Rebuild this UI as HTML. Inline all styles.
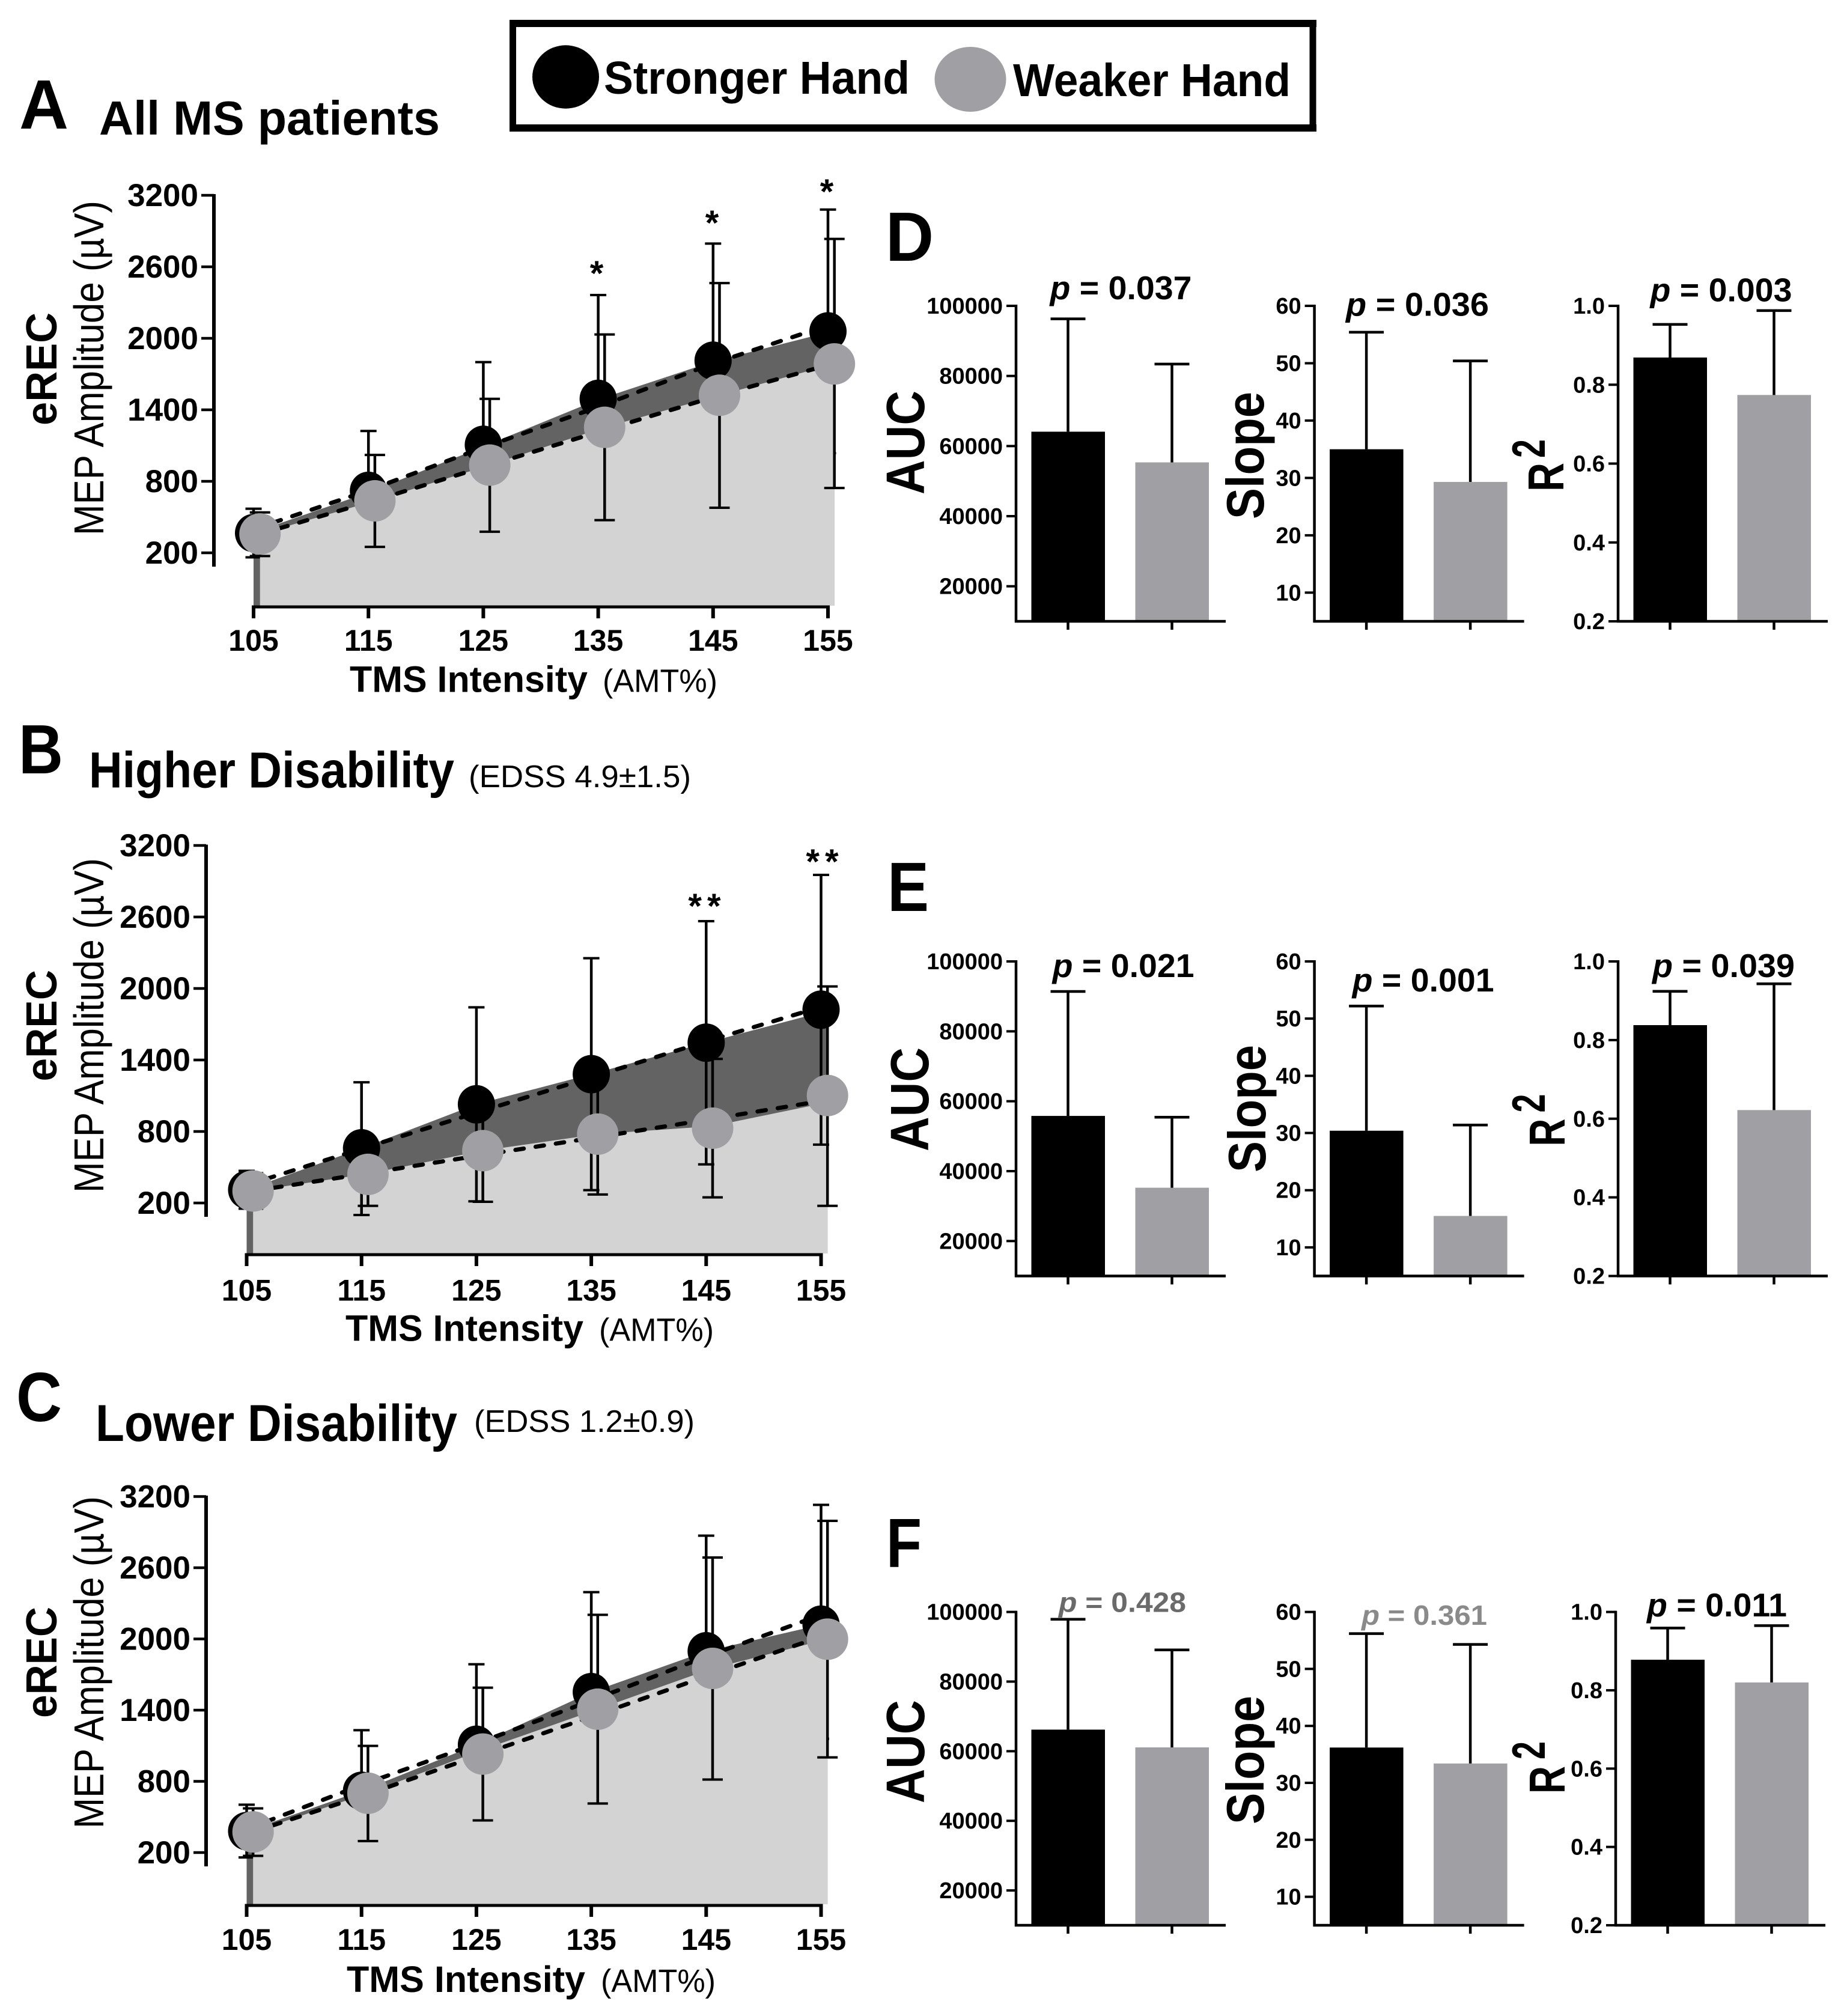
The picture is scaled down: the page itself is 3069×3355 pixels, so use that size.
<!DOCTYPE html>
<html lang="en">
<head>
<meta charset="utf-8">
<title>eREC MEP amplitude by hand</title>
<style>
html,body{margin:0;padding:0;background:#fff;}
svg{display:block;}
text{font-family:"Liberation Sans",sans-serif;fill:#000;}
.b{font-weight:bold;}
</style>
</head>
<body>
<svg id="fig" xmlns="http://www.w3.org/2000/svg" width="3069" height="3355" viewBox="0 0 3069 3355">
<rect width="3069" height="3355" fill="#fff"/>

<g>
<rect x="853.5" y="39" width="1331.5" height="174" fill="#fff" stroke="#000" stroke-width="11"/>
<rect x="848" y="33" width="1343" height="12" fill="#000"/>
<rect x="848" y="207" width="1343" height="12" fill="#000"/>
<ellipse cx="941.5" cy="128" rx="55.5" ry="52.7" fill="#000"/>
<text class="b" x="1005" y="156" font-size="77" textLength="509" lengthAdjust="spacingAndGlyphs">Stronger Hand</text>
<ellipse cx="1615" cy="132" rx="59.5" ry="54" fill="#a09fa3"/>
<text class="b" x="1686" y="160" font-size="77" textLength="462" lengthAdjust="spacingAndGlyphs">Weaker Hand</text>
</g>

<g id="static-text">
<text class="b" x="32" y="214" font-size="116" textLength="82" lengthAdjust="spacingAndGlyphs">A</text>
<text class="b" x="165" y="224" font-size="80" textLength="567" lengthAdjust="spacingAndGlyphs">All MS patients</text>
<text class="b" transform="translate(94 708) rotate(-90)" font-size="72" textLength="188" lengthAdjust="spacingAndGlyphs">eREC</text>
<text transform="translate(172 891) rotate(-90)" font-size="70" textLength="557" lengthAdjust="spacingAndGlyphs">MEP Amplitude (µV)</text>
<text class="b" x="582" y="1151.5" font-size="61" textLength="396" lengthAdjust="spacingAndGlyphs">TMS Intensity</text>
<text x="1003" y="1151.5" font-size="54" textLength="191" lengthAdjust="spacingAndGlyphs">(AMT%)</text>
<text class="b" x="993" y="475" font-size="58" text-anchor="middle">*</text>
<text class="b" x="1185" y="391" font-size="58" text-anchor="middle">*</text>
<text class="b" x="1376" y="339" font-size="58" text-anchor="middle">*</text>

<text class="b" x="31" y="1287" font-size="116" textLength="74" lengthAdjust="spacingAndGlyphs">B</text>
<text class="b" x="148" y="1310.5" font-size="84" textLength="608" lengthAdjust="spacingAndGlyphs">Higher Disability</text>
<text x="780" y="1310" font-size="52" textLength="370" lengthAdjust="spacingAndGlyphs">(EDSS 4.9±1.5)</text>
<text class="b" transform="translate(94 1799.5) rotate(-90)" font-size="72" textLength="185.5" lengthAdjust="spacingAndGlyphs">eREC</text>
<text transform="translate(172 1985) rotate(-90)" font-size="70" textLength="557" lengthAdjust="spacingAndGlyphs">MEP Amplitude (µV)</text>
<text class="b" x="575" y="2231.5" font-size="61" textLength="396" lengthAdjust="spacingAndGlyphs">TMS Intensity</text>
<text x="997" y="2231.5" font-size="54" textLength="191" lengthAdjust="spacingAndGlyphs">(AMT%)</text>
<text class="b" x="1177" y="1528" font-size="58" text-anchor="middle" letter-spacing="9">**</text>
<text class="b" x="1373" y="1454" font-size="58" text-anchor="middle" letter-spacing="9">**</text>

<text class="b" x="27" y="2365" font-size="116" textLength="76" lengthAdjust="spacingAndGlyphs">C</text>
<text class="b" x="159" y="2398" font-size="86" textLength="602" lengthAdjust="spacingAndGlyphs">Lower Disability</text>
<text x="789" y="2383" font-size="52" textLength="367" lengthAdjust="spacingAndGlyphs">(EDSS 1.2±0.9)</text>
<text class="b" transform="translate(94 2859) rotate(-90)" font-size="72" textLength="185" lengthAdjust="spacingAndGlyphs">eREC</text>
<text transform="translate(172 3043) rotate(-90)" font-size="70" textLength="553" lengthAdjust="spacingAndGlyphs">MEP Amplitude (µV)</text>
<text class="b" x="577" y="3315" font-size="61" textLength="397" lengthAdjust="spacingAndGlyphs">TMS Intensity</text>
<text x="1000" y="3315" font-size="54" textLength="191" lengthAdjust="spacingAndGlyphs">(AMT%)</text>

<text class="b" x="1474" y="434" font-size="116" textLength="80" lengthAdjust="spacingAndGlyphs">D</text>
<text class="b" x="1477" y="1516" font-size="116" textLength="69" lengthAdjust="spacingAndGlyphs">E</text>
<text class="b" x="1475" y="2608" font-size="116" textLength="59" lengthAdjust="spacingAndGlyphs">F</text>

<text class="b" transform="translate(1538 823) rotate(-90)" font-size="90" textLength="173" lengthAdjust="spacingAndGlyphs">AUC</text>
<text class="b" transform="translate(2103 864) rotate(-90)" font-size="88" textLength="212" lengthAdjust="spacingAndGlyphs">Slope</text>
<text class="b" transform="translate(2602 818) rotate(-90)" font-size="84" textLength="48" lengthAdjust="spacingAndGlyphs">R</text>
<text class="b" transform="translate(2571 762) rotate(-90)" font-size="78" textLength="31" lengthAdjust="spacingAndGlyphs">2</text>

<text class="b" transform="translate(1545 1916) rotate(-90)" font-size="90" textLength="173" lengthAdjust="spacingAndGlyphs">AUC</text>
<text class="b" transform="translate(2106 1951) rotate(-90)" font-size="88" textLength="212" lengthAdjust="spacingAndGlyphs">Slope</text>
<text class="b" transform="translate(2604 1907.6) rotate(-90)" font-size="84" textLength="46" lengthAdjust="spacingAndGlyphs">R</text>
<text class="b" transform="translate(2571 1851.5) rotate(-90)" font-size="78" textLength="31" lengthAdjust="spacingAndGlyphs">2</text>

<text class="b" transform="translate(1538 3001) rotate(-90)" font-size="90" textLength="172" lengthAdjust="spacingAndGlyphs">AUC</text>
<text class="b" transform="translate(2103 3036) rotate(-90)" font-size="88" textLength="214" lengthAdjust="spacingAndGlyphs">Slope</text>
<text class="b" transform="translate(2604 2985) rotate(-90)" font-size="84" textLength="46" lengthAdjust="spacingAndGlyphs">R</text>
<text class="b" transform="translate(2571 2928) rotate(-90)" font-size="78" textLength="30" lengthAdjust="spacingAndGlyphs">2</text>

<text class="b" x="1747.5" y="498" font-size="55" textLength="236" lengthAdjust="spacingAndGlyphs"><tspan font-style="italic">p</tspan> = 0.037</text>
<text class="b" x="2240" y="525.5" font-size="55" textLength="238" lengthAdjust="spacingAndGlyphs"><tspan font-style="italic">p</tspan> = 0.036</text>
<text class="b" x="2746.5" y="501.5" font-size="55" textLength="236" lengthAdjust="spacingAndGlyphs"><tspan font-style="italic">p</tspan> = 0.003</text>
<text class="b" x="1751.6" y="1626" font-size="55" textLength="236" lengthAdjust="spacingAndGlyphs"><tspan font-style="italic">p</tspan> = 0.021</text>
<text class="b" x="2250.6" y="1650" font-size="55" textLength="236" lengthAdjust="spacingAndGlyphs"><tspan font-style="italic">p</tspan> = 0.001</text>
<text class="b" x="2750" y="1626" font-size="55" textLength="237" lengthAdjust="spacingAndGlyphs"><tspan font-style="italic">p</tspan> = 0.039</text>
<text class="b" x="1762" y="2682.6" font-size="46" textLength="212" lengthAdjust="spacingAndGlyphs" style="fill:#6a6a6a"><tspan font-style="italic" style="fill:#6a6a6a">p</tspan> = 0.428</text>
<text class="b" x="2266" y="2704" font-size="46" textLength="209" lengthAdjust="spacingAndGlyphs" style="fill:#8a8a8a"><tspan font-style="italic" style="fill:#8a8a8a">p</tspan> = 0.361</text>
<text class="b" x="2741" y="2690" font-size="55" textLength="233" lengthAdjust="spacingAndGlyphs"><tspan font-style="italic">p</tspan> = 0.011</text>
</g>
<g id="charts"></g>
</svg>

<script>
// ---- line chart data ----
const intensities = [105, 115, 125, 135, 145, 155];
const intensityLabels = ['105', '115', '125', '135', '145', '155'];
const amplitudeTicks = [200, 800, 1400, 2000, 2600, 3200];
const amplitudeTickLabels = ['200', '800', '1400', '2000', '2600', '3200'];

const panelAStronger = [366, 720, 1106, 1492, 1812, 2058];
const panelAStrongerHigh = [570, 1222, 1800, 2363, 2795, 3080];
const panelAStrongerLow = [162, 218, 412, 621, 829, 1036];
const panelAStrongerDash = [397, 724, 1084, 1424, 1788, 2109];
const panelAStrongerEdge = [371, 706, 1092, 1486, 1805, 2050];
const panelAWeaker = [358, 636, 936, 1253, 1522, 1785];
const panelAWeakerHigh = [539, 1021, 1492, 2032, 2463, 2834];
const panelAWeakerLow = [173, 250, 377, 474, 578, 744];
const panelAWeakerDash = [358, 640, 936, 1230, 1522, 1790];
const panelAWeakerEdge = [358, 636, 936, 1253, 1522, 1785];

const panelBStronger = [311, 659, 1028, 1281, 1545, 1822];
const panelBStrongerHigh = [470, 1213, 1842, 2254, 2565, 2953];
const panelBStrongerLow = [152, 99, 214, 308, 524, 690];
const panelBStrongerDash = [350, 655, 958, 1255, 1556, 1845];
const panelBStrongerEdge = [311, 659, 1028, 1281, 1545, 1800];
const panelBWeaker = [301, 440, 639, 778, 828, 1102];
const panelBWeakerHigh = [450, 703, 1068, 1284, 1409, 2017];
const panelBWeakerLow = [153, 176, 210, 271, 247, 176];
const panelBWeakerDash = [301, 449, 603, 753, 906, 1064];
const panelBWeakerEdge = [301, 445, 639, 778, 845, 1044];

const panelCStronger = [381, 720, 1108, 1552, 1896, 2120];
const panelCStrongerHigh = [603, 1231, 1787, 2394, 2870, 3130];
const panelCStrongerLow = [159, 197, 551, 728, 946, 1158];
const panelCStrongerDash = [397, 769, 1117, 1481, 1851, 2203];
const panelCStrongerEdge = [381, 720, 1108, 1552, 1896, 2120];
const panelCWeaker = [374, 700, 1030, 1408, 1752, 1998];
const panelCWeakerHigh = [572, 1099, 1589, 2203, 2686, 2995];
const panelCWeakerLow = [172, 297, 471, 613, 815, 1002];
const panelCWeakerDash = [374, 693, 1030, 1363, 1704, 2038];
const panelCWeakerEdge = [374, 700, 1067, 1408, 1752, 1998];

// ---- bar chart data (stronger, weaker) ----
const aucTicks = [20000, 40000, 60000, 80000, 100000];
const aucTickLabels = ['20000', '40000', '60000', '80000', '100000'];
const slopeTicks = [10, 20, 30, 40, 50, 60];
const slopeTickLabels = ['10', '20', '30', '40', '50', '60'];
const rTicks = [0.2, 0.4, 0.6, 0.8, 1.0];
const rTickLabels = ['0.2', '0.4', '0.6', '0.8', '1.0'];

const panelDAuc = [64100, 55350];
const panelDAucErr = [96300, 83400];
const panelDSlope = [35.0, 29.3];
const panelDSlopeErr = [55.4, 50.4];
const panelDR2 = [0.869, 0.774];
const panelDR2Err = [0.953, 0.988];

const panelEAuc = [55800, 35260];
const panelEAucErr = [91400, 55440];
const panelESlope = [30.4, 15.5];
const panelESlopeErr = [52.2, 31.4];
const panelER2 = [0.838, 0.622];
const panelER2Err = [0.924, 0.943];

const panelFAuc = [66200, 61100];
const panelFAucErr = [97900, 89100];
const panelFSlope = [36.2, 33.4];
const panelFSlopeErr = [56.2, 54.3];
const panelFR2 = [0.878, 0.82];
const panelFR2Err = [0.959, 0.965];

const NS = 'http://www.w3.org/2000/svg';
const root = document.getElementById('charts');
const BLACK = '#000';
const GRAY = '#a09fa3';
const LIGHT = '#d3d3d3';
const DARK = '#636363';

function addLine(parent, x1, y1, x2, y2, w, name) {
  const el = document.createElementNS(NS, 'line');
  el.setAttribute('x1', x1);
  el.setAttribute('y1', y1);
  el.setAttribute('x2', x2);
  el.setAttribute('y2', y2);
  el.setAttribute('stroke', '#000');
  el.setAttribute('stroke-width', w);
  
  
  parent.appendChild(el);
  return el;
}
function addText(parent, x, y, str, size, anchor, name) {
  const el = document.createElementNS(NS, 'text');
  el.setAttribute('x', x);
  el.setAttribute('y', y);
  el.setAttribute('font-size', size);
  el.setAttribute('font-weight', 'bold');
  el.setAttribute('text-anchor', anchor);
  
  
  el.textContent = str;
  parent.appendChild(el);
  return el;
}
function addGroup(name) {
  const g = document.createElementNS(NS, 'g');
  
  
  root.appendChild(g);
  return g;
}
function addPolygon(parent, pts, fill, name) {
  const el = document.createElementNS(NS, 'polygon');
  el.setAttribute('points', pts.map(p => p[0].toFixed(1) + ',' + p[1].toFixed(1)).join(' '));
  el.setAttribute('fill', fill);
  
  
  parent.appendChild(el);
  return el;
}
function addDashed(parent, pts, name) {
  const el = document.createElementNS(NS, 'polyline');
  el.setAttribute('points', pts.map(p => p[0].toFixed(1) + ',' + p[1].toFixed(1)).join(' '));
  el.setAttribute('fill', 'none');
  el.setAttribute('stroke', '#000');
  el.setAttribute('stroke-width', '7');
  el.setAttribute('stroke-linecap', 'round');
  el.setAttribute('stroke-dasharray', '14 20');
  
  
  parent.appendChild(el);
  return el;
}
function addMarker(parent, cx, cy, rx, ry, fill, name) {
  const el = document.createElementNS(NS, 'ellipse');
  el.setAttribute('cx', cx);
  el.setAttribute('cy', cy);
  el.setAttribute('rx', rx);
  el.setAttribute('ry', ry);
  el.setAttribute('fill', fill);
  
  
  parent.appendChild(el);
  return el;
}
function addBar(parent, x, y, w, h, fill, name) {
  const el = document.createElementNS(NS, 'rect');
  el.setAttribute('x', x);
  el.setAttribute('y', y);
  el.setAttribute('width', w);
  el.setAttribute('height', h);
  el.setAttribute('fill', fill);
  
  
  parent.appendChild(el);
  return el;
}

function errorBars(g, xs, high, low, yOf, cap, series) {
  xs.forEach((x, i) => {
    addLine(g, x, yOf(high[i]), x, yOf(low[i]), 4.5, series + '-error-bar-' + intensityLabels[i]);
    addLine(g, x - cap / 2, yOf(high[i]), x + cap / 2, yOf(high[i]), 4, series + '-error-cap-high-' + intensityLabels[i]);
    addLine(g, x - cap / 2, yOf(low[i]), x + cap / 2, yOf(low[i]), 4, series + '-error-cap-low-' + intensityLabels[i]);
  });
}

function drawLinePanel(p) {
  const g = addGroup('line-chart-' + p.id);
  const xOf = v => p.x105 + (v - 105) * 19.12;
  const yOf = v => p.y200 - (v - 200) * p.pxPer600 / 600;
  const xsB = intensities.map(xOf);
  const xsG = intensities.map(v => xOf(v) + 10.7);
  const ptsB = xsB.map((x, i) => [x, yOf(p.stronger[i])]);
  const ptsG = xsG.map((x, i) => [x, yOf(p.weaker[i])]);
  const edgeB = xsB.map((x, i) => [x, yOf(p.strongerEdge[i])]);
  const edgeG = xsG.map((x, i) => [x, yOf(p.weakerEdge[i])]);
  const dashB = xsB.map((x, i) => [x, yOf(p.strongerDash[i])]);
  const dashG = xsG.map((x, i) => [x, yOf(p.weakerDash[i])]);
  const base = p.xAxisY - 2;

  addPolygon(g, [[xsB[0], base]].concat(edgeB).concat([[xsB[5] + 10.7, edgeB[5][1] + 6], [xsB[5] + 10.7, base]]), DARK, 'difference-area');
  if (!p.strongerOnTop) errorBars(g, xsB, p.strongerHigh, p.strongerLow, yOf, 27, 'stronger');
  addPolygon(g, [[xsG[0], base]].concat(edgeG).concat([[xsG[5], base]]), LIGHT, 'weaker-area');
  if (p.strongerOnTop) errorBars(g, xsB, p.strongerHigh, p.strongerLow, yOf, 27, 'stronger');
  errorBars(g, xsG, p.weakerHigh, p.weakerLow, yOf, 34, 'weaker');

  addDashed(g, dashB, 'stronger-dashed-line');
  addDashed(g, dashG, 'weaker-dashed-line');

  ptsB.forEach((pt, i) => {
    addMarker(g, pt[0], pt[1], 31, 32, BLACK, 'stronger-point-' + intensityLabels[i]);
  });
  ptsG.forEach((pt, i) => {
    addMarker(g, pt[0], pt[1], 34.5, 34.5, GRAY, 'weaker-point-' + intensityLabels[i]);
  });

  addLine(g, p.axisX, p.axisTop - 2, p.axisX, p.axisBottom, 6, 'y-axis');
  amplitudeTicks.forEach((t, i) => {
    addLine(g, p.axisX - 21, yOf(t), p.axisX, yOf(t), 4.5, 'y-tick-' + amplitudeTickLabels[i]);
    addText(g, p.axisX - 26, yOf(t) + 18, amplitudeTickLabels[i], 53, 'end', 'y-tick-label-' + amplitudeTickLabels[i]);
  });
  addLine(g, xsB[0] - 3, p.xAxisY, xsB[5] + 3, p.xAxisY, 5, 'x-axis');
  intensities.forEach((t, i) => {
    addLine(g, xOf(t), p.xAxisY, xOf(t), p.xAxisY + 19, 6, 'x-tick-' + intensityLabels[i]);
    addText(g, xOf(t), p.xLabelY, intensityLabels[i], 50, 'middle', 'x-tick-label-' + intensityLabels[i]);
  });
}

const linePanels = [
  {id: 'a', x105: 422, y200: 920, pxPer600: 119, axisX: 356, axisTop: 325, axisBottom: 943, xAxisY: 1010, xLabelY: 1083,
   stronger: panelAStronger, strongerHigh: panelAStrongerHigh, strongerLow: panelAStrongerLow, strongerDash: panelAStrongerDash, strongerEdge: panelAStrongerEdge,
   weaker: panelAWeaker, weakerHigh: panelAWeakerHigh, weakerLow: panelAWeakerLow, weakerDash: panelAWeakerDash, weakerEdge: panelAWeakerEdge, strongerOnTop: false},
  {id: 'b', x105: 410.5, y200: 2002, pxPer600: 119, axisX: 343, axisTop: 1407.6, axisBottom: 2025, xAxisY: 2088, xLabelY: 2164.5,
   stronger: panelBStronger, strongerHigh: panelBStrongerHigh, strongerLow: panelBStrongerLow, strongerDash: panelBStrongerDash, strongerEdge: panelBStrongerEdge,
   weaker: panelBWeaker, weakerHigh: panelBWeakerHigh, weakerLow: panelBWeakerLow, weakerDash: panelBWeakerDash, weakerEdge: panelBWeakerEdge, strongerOnTop: true},
  {id: 'c', x105: 410.5, y200: 3083, pxPer600: 118.5, axisX: 343, axisTop: 2491, axisBottom: 3106, xAxisY: 3171, xLabelY: 3245,
   stronger: panelCStronger, strongerHigh: panelCStrongerHigh, strongerLow: panelCStrongerLow, strongerDash: panelCStrongerDash, strongerEdge: panelCStrongerEdge,
   weaker: panelCWeaker, weakerHigh: panelCWeakerHigh, weakerLow: panelCWeakerLow, weakerDash: panelCWeakerDash, weakerEdge: panelCWeakerEdge, strongerOnTop: false}
];
linePanels.forEach(drawLinePanel);

function drawBarPanel(p) {
  const g = addGroup('bar-chart-' + p.id);
  const yOf = v => p.bottom - (v - p.min) / (p.max - p.min) * (p.bottom - p.top);
  [0, 1].forEach(i => {
    const series = i === 0 ? 'stronger' : 'weaker';
    const x = p.axisX + p.barOffsets[i];
    const cx = x + 61;
    addBar(g, x, yOf(p.values[i]), 122.5, p.bottom - yOf(p.values[i]), i === 0 ? BLACK : GRAY, 'bar-' + series);
    addLine(g, cx, yOf(p.errs[i]), cx, yOf(p.values[i]), 4.5, 'error-bar-' + series);
    addLine(g, cx - 29, yOf(p.errs[i]), cx + 29, yOf(p.errs[i]), 4.5, 'error-cap-' + series);
    addLine(g, cx, p.bottom, cx, p.bottom + 14, 4.5, 'x-tick-' + series);
  });
  addLine(g, p.axisX, p.top - 2, p.axisX, p.bottom + 2, 4.5, 'y-axis');
  addLine(g, p.axisX - 2, p.bottom, p.axisX + 349, p.bottom, 4.5, 'x-axis');
  p.ticks.forEach((t, i) => {
    addLine(g, p.axisX - 16, yOf(t), p.axisX, yOf(t), 4, 'y-tick-' + p.labels[i]);
    addText(g, p.axisX - 22, yOf(t) + 13, p.labels[i], 38, 'end', 'y-tick-label-' + p.labels[i]);
  });
}

const barOffsets = [25.5, 198.5];
const rows = [
  {id: 'd', top: 509, bottom: 1034, auc: panelDAuc, aucErr: panelDAucErr, slope: panelDSlope, slopeErr: panelDSlopeErr, r: panelDR2, rErr: panelDR2Err, rShift: 0},
  {id: 'e', top: 1600, bottom: 2123.5, auc: panelEAuc, aucErr: panelEAucErr, slope: panelESlope, slopeErr: panelESlopeErr, r: panelER2, rErr: panelER2Err, rShift: 0},
  {id: 'f', top: 2682.6, bottom: 3204, auc: panelFAuc, aucErr: panelFAucErr, slope: panelFSlope, slopeErr: panelFSlopeErr, r: panelFR2, rErr: panelFR2Err, rShift: -4}
];
rows.forEach(r => {
  drawBarPanel({id: r.id + '-auc', axisX: 1691, top: r.top, bottom: r.bottom, min: 10000, max: 100000, ticks: aucTicks, labels: aucTickLabels, values: r.auc, errs: r.aucErr, barOffsets: barOffsets});
  drawBarPanel({id: r.id + '-slope', axisX: 2187.6, top: r.top, bottom: r.bottom, min: 5, max: 60, ticks: slopeTicks, labels: slopeTickLabels, values: r.slope, errs: r.slopeErr, barOffsets: barOffsets});
  drawBarPanel({id: r.id + '-r2', axisX: 2693 + r.rShift, top: r.top, bottom: r.bottom, min: 0.2, max: 1.0, ticks: rTicks, labels: rTickLabels, values: r.r, errs: r.rErr, barOffsets: barOffsets});
});
</script>
</body>
</html>
